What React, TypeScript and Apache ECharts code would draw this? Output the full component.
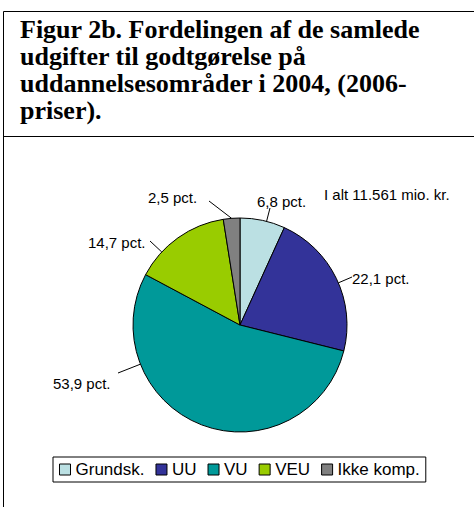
import React, { useEffect, useRef } from "react";
import * as echarts from "echarts";

const categories = ["Grundsk.", "UU", "VU", "VEU", "Ikke komp."];
const values = [6.8, 22.1, 53.9, 14.7, 2.5];
const colors = ["#BBE0E3", "#333399", "#009999", "#99CC00", "#808080"];
const titleLines = [
  "Figur 2b. Fordelingen af de samlede",
  "udgifter til godtgørelse på",
  "uddannelsesområder i 2004, (2006-",
  "priser).",
];
const totalNote = "I alt 11.561 mio. kr.";

// layout constants
const CX = 240;
const CY = 325;
const R = 107;
// label anchor (left edge, vertical middle) per slice, Excel-like placement
const labelAnchors: [number, number][] = [
  [257, 201],
  [352, 278],
  [53, 383],
  [88, 242],
  [148, 197],
];
// where each leader line meets its label
const leaderEnds: [number, number][] = [
  [270, 208],
  [352, 277],
  [118, 373],
  [150, 241],
  [209, 201],
];

export default function App() {
  const ref = useRef<HTMLDivElement>(null);
  useEffect(() => {
    document.body.style.margin = "0";
    const total = values.reduce((a, b) => a + b, 0);
    const ranges: [number, number][] = [];
    let acc = 0;
    values.forEach((v) => {
      ranges.push([(acc / total) * 360, ((acc + v) / total) * 360]);
      acc += v;
    });
    // leader start: point on the slice's own arc nearest to the label end
    const leaderStart = (i: number): [number, number] => {
      const [ex, ey] = leaderEnds[i];
      let ang = (Math.atan2(ex - CX, -(ey - CY)) * 180) / Math.PI;
      if (ang < 0) ang += 360;
      const [a0, a1] = ranges[i];
      const mid = (a0 + a1) / 2;
      if (ang < a0 || ang > a1) ang = mid;
      const rad = (ang * Math.PI) / 180;
      return [CX + R * Math.sin(rad), CY - R * Math.cos(rad)];
    };
    const leaders = values.map((_, i) => {
      const s = leaderStart(i);
      const e = leaderEnds[i];
      return {
        type: "line",
        z: 100,
        shape: { x1: s[0], y1: s[1], x2: e[0], y2: e[1] },
        style: { stroke: "#000", lineWidth: 1 },
      };
    });

    const chart = echarts.init(ref.current!, null, { renderer: "svg" });
    chart.setOption({
      animation: false,
      backgroundColor: "#ffffff",
      legend: {
        left: 53,
        top: 457,
        padding: [4, 6],
        borderColor: "#000",
        borderWidth: 1,
        itemGap: 11,
        itemWidth: 11,
        itemHeight: 11,
        icon: "rect",
        textStyle: { fontFamily: "Liberation Sans, Arial", fontSize: 17, color: "#000" },
        itemStyle: { borderColor: "#000", borderWidth: 1 },
        data: categories,
      },
      graphic: {
        elements: [
          { type: "line", shape: { x1: 3.5, y1: 11.5, x2: 474, y2: 11.5 }, style: { stroke: "#000", lineWidth: 1 } },
          { type: "line", shape: { x1: 3.5, y1: 11.5, x2: 3.5, y2: 507 }, style: { stroke: "#000", lineWidth: 1 } },
          { type: "line", shape: { x1: 3.5, y1: 136.5, x2: 474, y2: 136.5 }, style: { stroke: "#000", lineWidth: 1 } },
          ...titleLines.map((t, i) => ({
            type: "text",
            left: 20,
            top: 16 + i * 27,
            style: {
              text: t,
              font: "bold 26px 'Liberation Serif', 'Times New Roman', serif",
              fill: "#000",
            },
          })),
          {
            type: "text",
            left: 324,
            top: 187,
            style: { text: totalNote, font: "15px 'Liberation Sans', Arial", fill: "#000" },
          },
          ...leaders,
        ],
      },
      series: [
        {
          type: "pie",
          center: [CX, CY],
          radius: R,
          startAngle: 90,
          clockwise: true,
          avoidLabelOverlap: false,
          data: categories.map((c, i) => ({ name: c, value: values[i], itemStyle: { color: colors[i] } })),
          itemStyle: { borderColor: "#000", borderWidth: 1 },
          label: {
            show: true,
            position: "outside",
            formatter: (p: any) => `${String(p.value).replace(".", ",")} pct.`,
            fontFamily: "Liberation Sans, Arial",
            fontSize: 15,
            color: "#000",
          },
          labelLine: { show: false },
          labelLayout: (params: any) => {
            const a = labelAnchors[params.dataIndex];
            return { x: a[0], y: a[1], align: "left", verticalAlign: "middle" };
          },
          emphasis: { disabled: true },
        },
      ],
    });
    return () => chart.dispose();
  }, []);
  return <div ref={ref} style={{ width: 474, height: 507 }} />;
}
